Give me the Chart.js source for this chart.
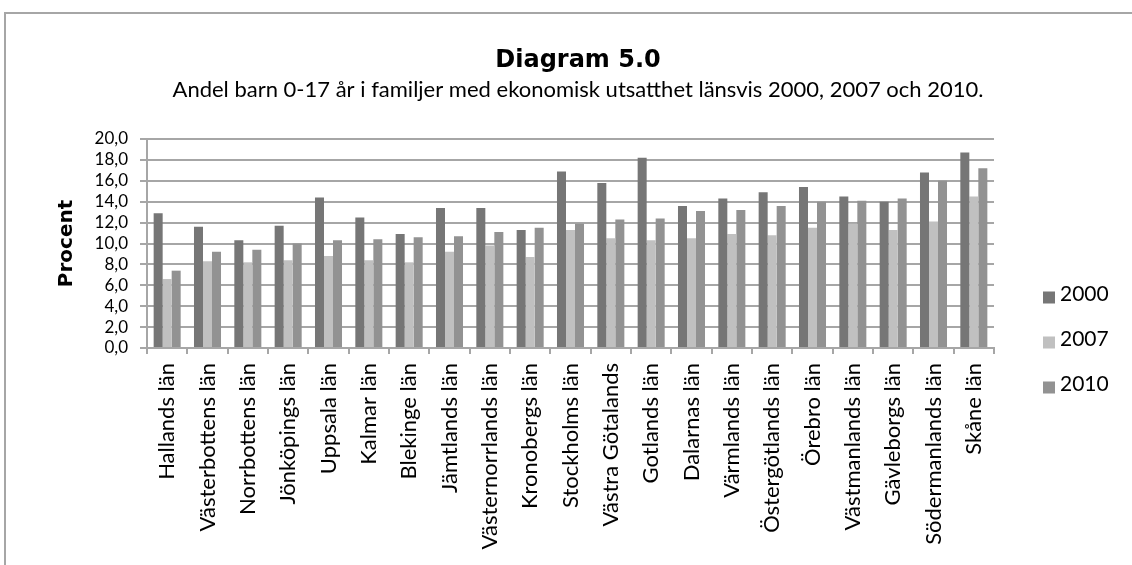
<!DOCTYPE html>
<html>
<head>
<meta charset="utf-8">
<script src="https://cdn.jsdelivr.net/npm/chart.js@4/dist/chart.umd.min.js"></script>
<style>
  html, body { margin: 0; padding: 0; background: #fff; overflow: hidden; }
  #wrap { position: relative; width: 1132px; height: 565px; }
  #frame { position: absolute; left: 4px; top: 12px; width: 1200px; height: 700px; border: 2px solid #a6a6a6; box-sizing: border-box; }
  canvas { position: absolute; left: 0; top: 0; }
</style>
</head>
<body>
<div id="wrap">
  <div id="frame"></div>
  <canvas id="c" width="1132" height="565"></canvas>
</div>
<script>
const categories = ['Hallands län','Västerbottens län','Norrbottens län','Jönköpings län','Uppsala län','Kalmar län','Blekinge län','Jämtlands län','Västernorrlands län','Kronobergs län','Stockholms län','Västra Götalands','Gotlands län','Dalarnas län','Värmlands län','Östergötlands län','Örebro län','Västmanlands län','Gävleborgs län','Södermanlands län','Skåne län'];
const seriesNames = ['2000', '2007', '2010'];
const values2000 = [12.9, 11.6, 10.3, 11.7, 14.4, 12.5, 10.9, 13.4, 13.4, 11.3, 16.9, 15.8, 18.2, 13.6, 14.3, 14.9, 15.4, 14.5, 14.0, 16.8, 18.7];
const values2007 = [6.6, 8.3, 8.2, 8.4, 8.8, 8.4, 8.2, 9.2, 9.8, 8.7, 11.3, 10.5, 10.3, 10.5, 10.9, 10.8, 11.5, 11.9, 11.3, 12.1, 14.5];
const values2010 = [7.4, 9.2, 9.4, 10.0, 10.3, 10.4, 10.6, 10.7, 11.1, 11.5, 11.9, 12.3, 12.4, 13.1, 13.2, 13.6, 14.0, 14.1, 14.3, 16.0, 17.2];
const yTickLabels = ['0,0','2,0','4,0','6,0','8,0','10,0','12,0','14,0','16,0','18,0','20,0'];
const titleText = 'Diagram 5.0';
const subtitleText = 'Andel barn 0-17 år i familjer med ekonomisk utsatthet länsvis 2000, 2007 och 2010.';
const yAxisTitle = 'Procent';

const FONT = 'Lato, "DejaVu Sans", sans-serif';
const BOLDFONT = '"DejaVu Sans", Lato, sans-serif';
const colors = ['#767676', '#c0c0c0', '#929292'];
const gridColor = '#a6a6a6';

const headerPlugin = {
  id: 'header',
  afterDraw(chart) {
    const ctx = chart.ctx;
    const cx = 578;
    ctx.save();
    ctx.fillStyle = '#000';
    ctx.textAlign = 'center';
    ctx.textBaseline = 'alphabetic';
    ctx.font = 'bold 24px ' + BOLDFONT;
    ctx.fillText(titleText, cx, 67);
    ctx.font = '22px ' + FONT;
    ctx.fillText(subtitleText, cx, 97);
    ctx.restore();
  }
};

const legendPlugin = {
  id: 'customLegend',
  afterDraw(chart) {
    const ctx = chart.ctx;
    ctx.save();
    const ys = [293.5, 338.5, 383.5];
    chart.data.datasets.forEach((ds, i) => {
      ctx.fillStyle = ds.backgroundColor;
      ctx.fillRect(1043, ys[i] - 2, 12, 12);
      ctx.fillStyle = '#000';
      ctx.font = '21px ' + FONT;
      ctx.textAlign = 'left';
      ctx.textBaseline = 'middle';
      ctx.fillText(ds.label, 1060, ys[i] + 1);
    });
    ctx.restore();
  }
};

new Chart(document.getElementById('c'), {
  type: 'bar',
  data: {
    labels: categories,
    datasets: [
      { label: seriesNames[0], data: values2000, backgroundColor: colors[0] },
      { label: seriesNames[1], data: values2007, backgroundColor: colors[1] },
      { label: seriesNames[2], data: values2010, backgroundColor: colors[2] }
    ]
  },
  options: {
    responsive: false,
    animation: false,
    devicePixelRatio: 1,
    layout: { padding: { left: 52, right: 138, top: 139, bottom: 0 } },
    datasets: { bar: { categoryPercentage: 0.67, barPercentage: 1.0 } },
    plugins: {
      legend: { display: false },
      title: { display: false },
      tooltip: { enabled: false }
    },
    scales: {
      x: {
        afterFit(scale) { scale.height = 565 - 348; },
        grid: { drawOnChartArea: false, drawTicks: true, tickLength: 6, color: gridColor, lineWidth: 2, offset: true },
        border: { display: true, color: gridColor, width: 2 },
        ticks: {
          autoSkip: false, minRotation: 90, maxRotation: 90, padding: 9,
          color: '#000', font: { family: FONT, size: 22 }
        }
      },
      y: {
        min: 0, max: 20,
        afterFit(scale) { scale.width = 147 - 52; },
        grid: { color: gridColor, lineWidth: 2, drawTicks: true, tickLength: 7 },
        border: { display: true, color: gridColor, width: 2 },
        ticks: {
          stepSize: 2, autoSkip: false, padding: 12, color: '#000',
          font: { family: FONT, size: 17 },
          callback: (v, i) => yTickLabels[i]
        },
        title: {
          display: true, text: yAxisTitle, color: '#000',
          font: { family: BOLDFONT, size: 20, weight: 'bold' },
          padding: { top: 3, bottom: 4 }
        }
      }
    }
  },
  plugins: [headerPlugin, legendPlugin]
});
</script>
</body>
</html>
